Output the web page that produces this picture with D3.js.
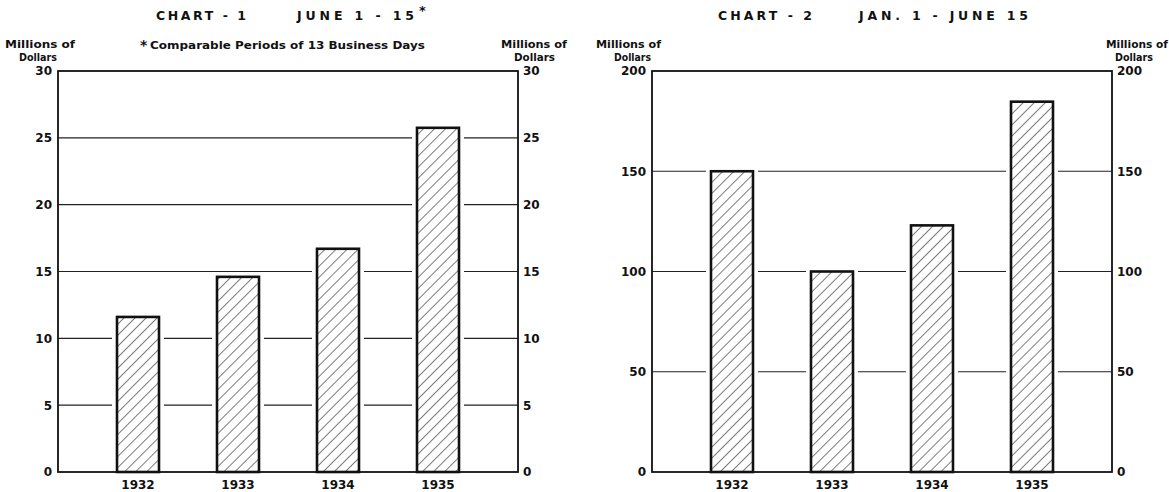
<!DOCTYPE html>
<html>
<head>
<meta charset="utf-8">
<script src="https://cdn.jsdelivr.net/npm/d3@7/dist/d3.min.js"></script>
<style>
  html, body { margin: 0; padding: 0; background: #fff; }
  svg { display: block; }
  text { font-family: "DejaVu Sans", sans-serif; font-weight: 700; fill: #111; }
</style>
</head>
<body>
<svg id="chart" width="1169" height="492"></svg>
<script>
// ---- DATA ----
const years = ["1932", "1933", "1934", "1935"];
const chart1Values = [11.6, 14.6, 16.7, 25.75];   // Millions of Dollars, June 1-15
const chart2Values = [150, 100, 123, 184.7];       // Millions of Dollars, Jan. 1 - June 15
const chart1Ticks = [0, 5, 10, 15, 20, 25, 30];
const chart2Ticks = [0, 50, 100, 150, 200];
const chart1Title = ["CHART - 1", "JUNE 1 - 15"];
const chart2Title = ["CHART - 2", "JAN. 1 - JUNE 15"];
const footnote = "Comparable Periods of 13 Business Days";
const unitLines = ["Millions of", "Dollars"];

const FONT = "'DejaVu Sans', sans-serif";
const svg = d3.select("#chart");
const defs = svg.append("defs");
defs.append("pattern")
  .attr("id", "hatch")
  .attr("patternUnits", "userSpaceOnUse")
  .attr("width", 7.8).attr("height", 7.8)
  .attr("patternTransform", "rotate(45)")
  .append("line")
  .attr("x1", 0).attr("y1", -1).attr("x2", 0).attr("y2", 9)
  .attr("stroke", "#111").attr("stroke-width", 1.1);

function drawChart(cfg) {
  const g = svg.append("g");
  const x = d3.scaleBand().domain(years).range([cfg.left, cfg.right])
    .paddingInner(0.58).paddingOuter(0.59);
  const y = d3.scaleLinear().domain([0, cfg.max]).range([472, 71]);

  // grid lines
  g.selectAll("line.grid").data(cfg.ticks.filter(t => t > 0 && t < cfg.max))
    .join("line")
    .attr("x1", cfg.left).attr("x2", cfg.right)
    .attr("y1", d => y(d)).attr("y2", d => y(d))
    .attr("stroke", "#222").attr("stroke-width", 1.2);

  // white halos (gaps in grid lines around bars)
  const gap = 5;
  g.selectAll("rect.halo").data(cfg.values)
    .join("rect")
    .attr("x", (d, i) => x(years[i]) - gap)
    .attr("width", x.bandwidth() + 2 * gap)
    .attr("y", d => y(d) - 2)
    .attr("height", d => y(0) - y(d) + 2)
    .attr("fill", "#fff");

  // frame
  g.append("rect")
    .attr("x", cfg.left).attr("y", y(cfg.max))
    .attr("width", cfg.right - cfg.left).attr("height", y(0) - y(cfg.max))
    .attr("fill", "none").attr("stroke", "#111").attr("stroke-width", 1.8);

  // bars
  g.selectAll("rect.bar").data(cfg.values)
    .join("rect")
    .attr("x", (d, i) => x(years[i]))
    .attr("width", x.bandwidth())
    .attr("y", d => y(d))
    .attr("height", d => y(0) - y(d))
    .attr("fill", "url(#hatch)")
    .attr("stroke", "#111").attr("stroke-width", 2.6);

  // axes (labels only)
  const axL = d3.axisLeft(y).tickValues(cfg.ticks).tickSize(0).tickPadding(6);
  const axR = d3.axisRight(y).tickValues(cfg.ticks).tickSize(0).tickPadding(5);
  const axB = d3.axisBottom(x).tickSize(0).tickPadding(8);
  [[axL, `translate(${cfg.left},0)`], [axR, `translate(${cfg.right},0)`], [axB, `translate(0,472)`]]
    .forEach(([ax, tr]) => {
      const a = g.append("g").attr("transform", tr).call(ax);
      a.select(".domain").remove();
      a.selectAll("text").style("font-family", FONT)
        .style("font-weight", 700).style("font-size", "12px").attr("fill", "#111");
    });

  // unit labels
  [cfg.unitL, cfg.unitR].forEach(u => {
    unitLines.forEach((t, k) => {
      g.append("text").attr("x", u[k][0]).attr("y", 48 + k * 13)
        .attr("textLength", u[k][1] - u[k][0]).attr("lengthAdjust", "spacingAndGlyphs")
        .style("font-size", "11px").text(t);
    });
  });

  // title
  g.append("text").attr("x", cfg.t1[0]).attr("y", 20)
    .attr("textLength", cfg.t1[1] - cfg.t1[0]).attr("lengthAdjust", "spacing")
    .style("font-size", "12.5px").text(cfg.title[0]);
  const t2 = g.append("text").attr("x", cfg.t2[0]).attr("y", 20)
    .style("font-size", "12.5px");
  t2.append("tspan")
    .attr("textLength", cfg.t2[1] - cfg.t2[0]).attr("lengthAdjust", "spacing")
    .text(cfg.title[1]);
  if (cfg.star) {
    t2.append("tspan").attr("dy", -5).attr("dx", 1).style("font-size", "13px").text("*");
  }
}

drawChart({
  left: 58, right: 518, max: 30, ticks: chart1Ticks, values: chart1Values,
  title: chart1Title, t1: [156, 246], t2: [297, 414], star: true,
  unitL: [[5, 75], [19, 57]], unitR: [[501, 567], [514, 555]]
});
drawChart({
  left: 652, right: 1112, max: 200, ticks: chart2Ticks, values: chart2Values,
  title: chart2Title, t1: [718, 812], t2: [859, 1028], star: false,
  unitL: [[596, 661], [614, 651]], unitR: [[1106, 1168], [1115, 1153]]
});

// footnote of chart 1
svg.append("text").attr("x", 140).attr("y", 50).style("font-size", "14px").text("*");
svg.append("text").attr("x", 150).attr("y", 49)
  .attr("textLength", 275).attr("lengthAdjust", "spacingAndGlyphs")
  .style("font-size", "11px").text(footnote);
</script>
</body>
</html>
